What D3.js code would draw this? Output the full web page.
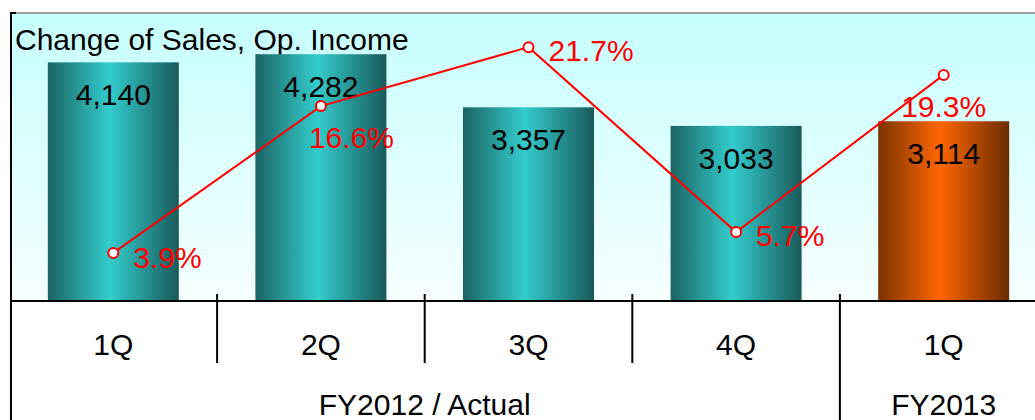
<!DOCTYPE html>
<html>
<head>
<meta charset="utf-8">
<script src="https://cdn.jsdelivr.net/npm/d3@7"></script>
<style>
  html, body { margin: 0; padding: 0; background: #fff; overflow: hidden; }
  text { font-family: "Liberation Sans", Arial, sans-serif; }
</style>
</head>
<body>
<svg id="chart" width="1035" height="420"></svg>
<script>
// Quarterly sales (bars) and operating income ratio in % (line)
const quarters = ["1Q", "2Q", "3Q", "4Q", "1Q"];
const fiscalYears = ["FY2012 / Actual", "FY2013"];
const yearOfQuarter = [0, 0, 0, 0, 1];
const sales = [4140, 4282, 3357, 3033, 3114];
const opIncomeRatio = [3.9, 16.6, 21.7, 5.7, 19.3];
const title = "Change of Sales, Op. Income";

const W = 1035, H = 420;
const plotLeft = 11, plotTop = 13, baseY = 300;
const fontSize = 30;

const svg = d3.select("#chart");
const defs = svg.append("defs");

// Plot area background: pale cyan fading to near white
const bg = defs.append("linearGradient").attr("id", "bgGrad")
  .attr("x1", 0).attr("y1", 0).attr("x2", 0).attr("y2", 1);
bg.append("stop").attr("offset", "0%").attr("stop-color", "#c6ffff");
bg.append("stop").attr("offset", "100%").attr("stop-color", "#f6ffff");

// Cylinder-style horizontal shading for the bars
function barGradient(id, edgeL, mid, edgeR) {
  const g = defs.append("linearGradient").attr("id", id)
    .attr("x1", 0).attr("y1", 0).attr("x2", 1).attr("y2", 0);
  g.append("stop").attr("offset", "0%").attr("stop-color", edgeL);
  g.append("stop").attr("offset", "47%").attr("stop-color", mid);
  g.append("stop").attr("offset", "100%").attr("stop-color", edgeR);
}
barGradient("tealGrad", "#1c6464", "#33cccc", "#1a5a5a");
barGradient("orangeGrad", "#7a3300", "#ff6600", "#6a2c00");

// Scales
const x = d3.scaleBand().domain(d3.range(quarters.length)).range([9.5, 1047.5]).padding(0);
const y = d3.scaleLinear().domain([0, 5000]).range([baseY, plotTop]);
const y2 = d3.scaleLinear().domain([0, 25]).range([298, 9]);
const barW = 131;
const cx = i => x(i) + x.bandwidth() / 2;

// Background
svg.append("rect")
  .attr("x", plotLeft).attr("y", plotTop)
  .attr("width", W - plotLeft).attr("height", baseY - plotTop)
  .attr("fill", "url(#bgGrad)");

// Top border
svg.append("line")
  .attr("x1", plotLeft).attr("x2", W).attr("y1", plotTop).attr("y2", plotTop)
  .attr("stroke", "#808080").attr("stroke-width", 1.5);

// Title
svg.append("text")
  .attr("x", 15).attr("y", 50)
  .attr("font-size", fontSize).attr("fill", "#000")
  .text(title);

// Bars
svg.append("g").selectAll("rect")
  .data(sales)
  .join("rect")
  .attr("x", (d, i) => cx(i) - barW / 2)
  .attr("y", d => y(d))
  .attr("width", barW)
  .attr("height", d => baseY - y(d))
  .attr("fill", (d, i) => yearOfQuarter[i] === 1 ? "url(#orangeGrad)" : "url(#tealGrad)");

// Bar value labels
svg.append("g").selectAll("text")
  .data(sales)
  .join("text")
  .attr("x", (d, i) => cx(i))
  .attr("y", d => y(d) + 43)
  .attr("text-anchor", "middle")
  .attr("font-size", fontSize).attr("fill", "#000")
  .text(d => d3.format(",")(d));

// Op. income ratio line
const line = d3.line().x((d, i) => cx(i)).y(d => y2(d));
svg.append("path")
  .datum(opIncomeRatio)
  .attr("d", line)
  .attr("fill", "none")
  .attr("stroke", "#ff0000")
  .attr("stroke-width", 2);

svg.append("g").selectAll("circle")
  .data(opIncomeRatio)
  .join("circle")
  .attr("cx", (d, i) => cx(i))
  .attr("cy", d => y2(d))
  .attr("r", 5)
  .attr("fill", "#fff")
  .attr("stroke", "#ff0000")
  .attr("stroke-width", 2);

// Label placement around each marker: [dx, dy, anchor]
const pctPlacement = [[20, 15, "start"], [-12, 42, "start"], [20, 14, "start"], [20, 14, "start"], [0, 42, "middle"]];
svg.append("g").selectAll("text")
  .data(opIncomeRatio)
  .join("text")
  .attr("x", (d, i) => cx(i) + pctPlacement[i][0])
  .attr("y", d => y2(d))
  .attr("dy", (d, i) => pctPlacement[i][1])
  .attr("text-anchor", (d, i) => pctPlacement[i][2])
  .attr("font-size", fontSize).attr("fill", "#ff0000")
  .text(d => d.toFixed(1) + "%");

// Category axis: quarter labels
const xAxis = d3.axisBottom(x).tickSize(0).tickPadding(0).tickFormat(i => quarters[i]);
const axisG = svg.append("g").attr("transform", `translate(0,${baseY})`).call(xAxis);
axisG.select(".domain").remove();
axisG.selectAll("text")
  .attr("y", 55).attr("dy", 0)
  .attr("font-size", fontSize).attr("fill", "#000")
  .attr("font-family", "Liberation Sans, Arial, sans-serif");

// Separators between quarters (short) and between fiscal years (long)
const seps = d3.range(1, quarters.length);
svg.append("g").selectAll("line")
  .data(seps)
  .join("line")
  .attr("x1", i => x(i)).attr("x2", i => x(i))
  .attr("y1", 294)
  .attr("y2", i => yearOfQuarter[i] !== yearOfQuarter[i - 1] ? H : 363)
  .attr("stroke", "#000").attr("stroke-width", 2);

// Fiscal year labels centred under their quarters
svg.append("g").selectAll("text")
  .data(fiscalYears)
  .join("text")
  .attr("x", (d, g) => {
    const idx = d3.range(quarters.length).filter(i => yearOfQuarter[i] === g);
    return (x(idx[0]) + x(idx[idx.length - 1]) + x.bandwidth()) / 2;
  })
  .attr("y", 415)
  .attr("text-anchor", "middle")
  .attr("font-size", fontSize).attr("fill", "#000")
  .text(d => d);

// Baseline and left axis
svg.append("line")
  .attr("x1", plotLeft).attr("x2", W).attr("y1", baseY + 1).attr("y2", baseY + 1)
  .attr("stroke", "#000").attr("stroke-width", 2);
svg.append("line")
  .attr("x1", plotLeft).attr("x2", plotLeft).attr("y1", 12).attr("y2", H)
  .attr("stroke", "#000").attr("stroke-width", 2);
svg.append("line")
  .attr("x1", plotLeft).attr("x2", plotLeft + 5).attr("y1", 13).attr("y2", 13)
  .attr("stroke", "#000").attr("stroke-width", 2);
</script>
</body>
</html>
